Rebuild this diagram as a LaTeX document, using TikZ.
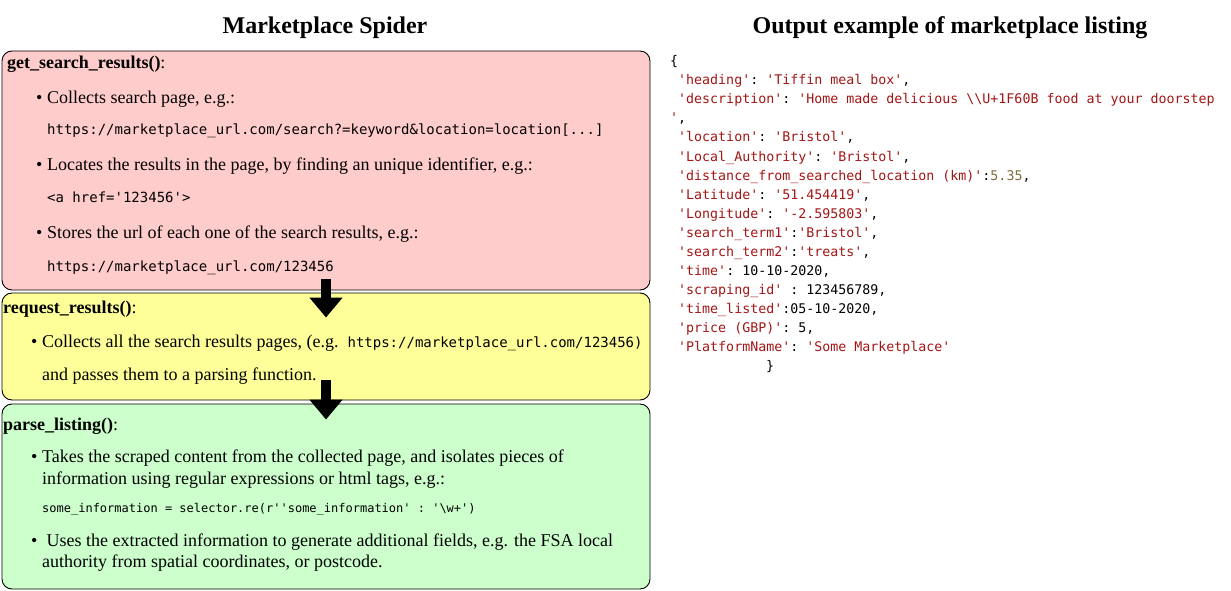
\documentclass[tikz,border=0pt]{standalone}
\usepackage{fontspec}
\setmainfont{Liberation Serif}
\setmonofont{DejaVu Sans Mono}
\usetikzlibrary{positioning}
\usetikzlibrary{calc}
\usetikzlibrary{arrows.meta}
\definecolor{Pink}{HTML}{FFCCCC}
\definecolor{Lemon}{HTML}{FFFF99}
\definecolor{Mint}{HTML}{CCFFCC}
\definecolor{JsonRed}{HTML}{A31515}
\definecolor{JsonNum}{HTML}{7D6B3A}
\newcommand{\js}[1]{\textcolor{JsonRed}{#1}}
\newcommand{\itm}{\makebox[11pt][l]{\textbullet}}
\newcommand{\codepart}[1]{{\ttfamily\fontsize{14}{17}\selectfont #1}}

\begin{document}
\begin{tikzpicture}[x=1pt,y=-1pt,
  box/.style={draw,rounded corners=10pt,line width=0.9pt,minimum width=648pt,inner sep=0pt},
  txt/.style={anchor=base west,inner sep=0pt,font=\fontsize{18}{21}\selectfont},
  code/.style={anchor=base west,inner sep=0pt,font=\ttfamily\fontsize{14}{17}\selectfont},
  json/.style={anchor=base west,inner sep=0pt,font=\ttfamily\fontsize{13.3}{19}\selectfont},
  title/.style={anchor=base,inner sep=0pt,font=\bfseries\fontsize{24}{28}\selectfont},
  flow/.style={line width=10pt,-{Triangle[width=32pt,length=20pt]}}]
\useasboundingbox (0,0) rectangle (1231,591);

\node[title] (spider) at (325,34) {Marketplace Spider};
\node[title] (output) at (950,34) {Output example of marketplace listing};

% the three steps of the spider
\node[box,fill=Pink,minimum height=239pt] (gsrbox) at (326,170.5) {};
\node[box,fill=Lemon,minimum height=107pt] (reqbox) at (326,346.5) {};
\node[box,fill=Mint,minimum height=185pt] (parbox) at (326,496.5) {};

\node[txt] (gsr) at (7,69) {\textbf{get\_search\_results()}:};
\node[txt] (gsr1) at (36,104) {\itm Collects search page, e.g.:};
\node[code] (gsr1c) at (47,135) {https://marketplace\_url.com/search?=keyword\&location=location[...]};
\node[txt] (gsr2) at (36,170) {\itm Locates the results in the page, by finding an unique identifier, e.g.:};
\node[code] (gsr2c) at (47,202) {<a href='123456'>};
\node[txt] (gsr3) at (36,238) {\itm Stores the url of each one of the search results, e.g.:};
\node[code] (gsr3c) at (47,271) {https://marketplace\_url.com/123456};

\node[txt] (req) at (3,313) {\textbf{request\_results()}:};
\node[txt] (req1) at (31,347) {\itm Collects all the search results pages, (e.g.\ \ \codepart{https://marketplace\_url.com/123456)}};
\node[txt] (req2) at (42,380) {and passes them to a parsing function.};

\node[txt] (par) at (3,430) {\textbf{parse\_listing()}:};
\node[txt] (par1) at (31,462) {\itm Takes the scraped content from the collected page, and isolates pieces of};
\node[txt] (par1b) at (42,484) {information using regular expressions or html tags, e.g.:};
\node[code,font=\ttfamily\fontsize{12}{14}\selectfont] (par1c) at (42,512)
  {some\_information = selector.re(r''some\_information' : '\textbackslash w+')};
\node[txt] (par2) at (31,546) {\itm\ Uses the extracted information to generate additional fields, e.g. the FSA local};
\node[txt] (par2b) at (42,567) {authority from spatial coordinates, or postcode.};

\draw[flow] ([yshift=11pt]gsrbox.south) -- ([yshift=-25pt]reqbox.north);
\draw[flow] ([yshift=20pt]reqbox.south) -- ([yshift=-16pt]parbox.north);

% listing, one line each
\node[json] (j0) at (670,66) {\{};
\foreach \txt [count=\i] in {
  {\js{'heading'}: \js{'Tiffin meal box'},},
  {\js{'description'}: \js{'Home made delicious \textbackslash\textbackslash U+1F60B food at your doorstep}},
  {},
  {\js{'location'}: \js{'Bristol'},},
  {\js{'Local\_Authority'}: \js{'Bristol'},},
  {\js{'distance\_from\_searched\_location (km)'}:\textcolor{JsonNum}{5.35},},
  {\js{'Latitude'}: \js{'51.454419'},},
  {\js{'Longitude'}: \js{'-2.595803'},},
  {\js{'search\_term1'}:\js{'Bristol'},},
  {\js{'search\_term2'}:\js{'treats'},},
  {\js{'time'}: 10-10-2020,},
  {\js{'scraping\_id'} : 123456789,},
  {\js{'time\_listed'}:05-10-2020,},
  {\js{'price (GBP)'}: 5,},
  {\js{'PlatformName'}: \js{'Some Marketplace'}}}
  \node[json] (j\i) at (678,66+19*\i) {\txt};
\node[json] (jq) at (670,123) {\js{'},};
\node[json] (jend) at (766,370) {\}};
\end{tikzpicture}
\end{document}
